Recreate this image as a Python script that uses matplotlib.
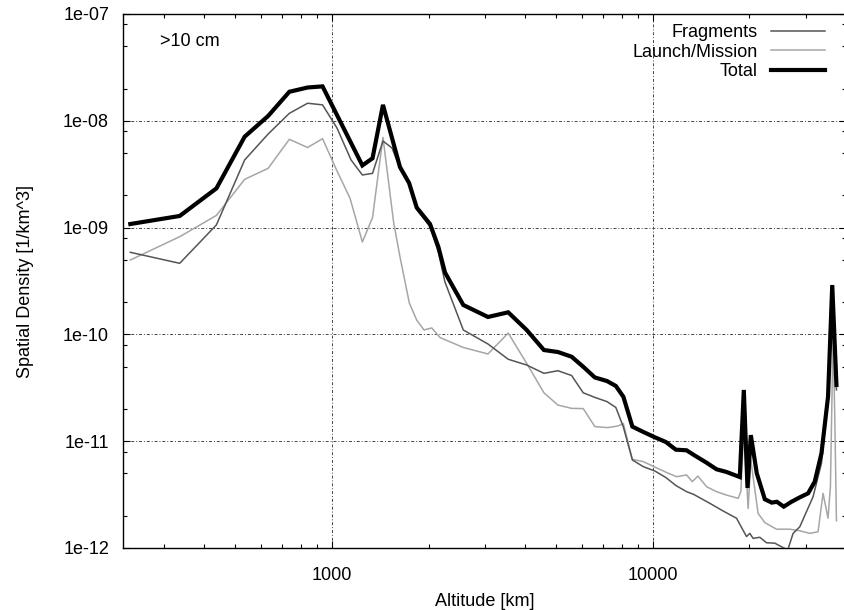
import matplotlib
matplotlib.use("Agg")
import matplotlib.pyplot as plt
from matplotlib.ticker import LogLocator, FixedLocator, NullFormatter, FixedFormatter

plt.rcParams['font.family'] = ['Liberation Sans', 'DejaVu Sans']

# ---- data (altitude in km, spatial density in 1/km^3) ----
total_alt = [235, 335, 436, 534, 632, 736, 839, 934, 1243, 1337, 1441, 1628, 1738, 1836,
             2020, 2144, 2249, 2565, 3062, 3541, 4042, 4575, 5058, 5581, 6066, 6596, 7191,
             7666, 8091, 8632, 9341, 10144, 10977, 11793, 12735, 13420, 14702, 15788, 16966,
             18664, 19210, 19724, 20200, 21086, 22336, 23480, 24340, 25590, 27050, 28710,
             30470, 31960, 33540, 35160, 36240, 37350]
total_dens = [1.08e-9, 1.285e-9, 2.33e-9, 7.1e-9, 1.11e-8, 1.87e-8, 2.05e-8, 2.10e-8, 3.82e-9,
              4.46e-9, 1.41e-8, 3.69e-9, 2.62e-9, 1.54e-9, 1.08e-9, 6.62e-10, 3.80e-10,
              1.885e-10, 1.456e-10, 1.61e-10, 1.10e-10, 7.14e-11, 6.84e-11, 6.18e-11, 4.98e-11,
              3.95e-11, 3.66e-11, 3.29e-11, 2.61e-11, 1.37e-11, 1.22e-11, 1.088e-11, 9.83e-12,
              8.33e-12, 8.22e-12, 7.43e-12, 6.29e-12, 5.46e-12, 5.15e-12, 4.62e-12, 3.02e-11,
              3.65e-12, 1.14e-11, 5.00e-12, 2.86e-12, 2.66e-12, 2.71e-12, 2.44e-12, 2.71e-12,
              2.98e-12, 3.25e-12, 4.18e-12, 7.70e-12, 2.61e-11, 2.90e-10, 3.36e-11]

frag_alt = [235, 335, 436, 534, 632, 736, 839, 934, 1036, 1146, 1243, 1337, 1441, 1538, 1628,
            1738, 1836, 2020, 2144, 2249, 2565, 3062, 3541, 4042, 4575, 5058, 5581, 6066, 6596,
            7191, 7666, 8091, 8632, 9341, 10144, 10977, 11793, 12735, 13420, 15054, 16558,
            18232, 19583, 20057, 20539, 21544, 22605, 23988, 25460, 26340, 27360, 28710, 31580,
            33540, 35160, 36240, 37350]
frag_dens = [5.87e-10, 4.63e-10, 1.06e-9, 4.30e-9, 7.52e-9, 1.175e-8, 1.46e-8, 1.41e-8, 8.56e-9,
             4.30e-9, 3.11e-9, 3.22e-9, 6.47e-9, 5.56e-9, 3.59e-9, 2.53e-9, 1.48e-9, 1.02e-9,
             5.91e-10, 3.09e-10, 1.10e-10, 8.13e-11, 5.85e-11, 5.17e-11, 4.32e-11, 4.57e-11,
             4.12e-11, 2.84e-11, 2.57e-11, 2.35e-11, 2.07e-11, 1.36e-11, 6.67e-12, 5.77e-12,
             5.26e-12, 4.57e-12, 3.85e-12, 3.37e-12, 3.17e-12, 2.62e-12, 2.22e-12, 1.90e-12,
             1.28e-12, 1.37e-12, 1.23e-12, 1.26e-12, 1.12e-12, 1.11e-12, 1.01e-12, 0.96e-12,
             1.37e-12, 1.58e-12, 3.02e-12, 6.21e-12, 2.43e-11, 1.69e-10, 3.02e-11]

lm_alt = [235, 335, 436, 534, 632, 736, 839, 934, 1036, 1138, 1243, 1337, 1441, 1555, 1628,
          1741, 1836, 1935, 2045, 2170, 2565, 3062, 3541, 4042, 4575, 5058, 5581, 6066, 6596,
          7242, 7795, 8091, 8632, 9341, 10144, 10977, 11852, 12735, 13278, 13810, 14702, 15788,
          16966, 18443, 18803, 19210, 19813, 20200, 21281, 22336, 24290, 26715, 28710, 30840,
          32730, 33930, 35160, 35770, 36450, 36900, 37350]
lm_dens = [4.97e-10, 8.22e-10, 1.30e-9, 2.83e-9, 3.59e-9, 6.71e-9, 5.62e-9, 6.80e-9, 3.39e-9,
           1.88e-9, 7.33e-10, 1.24e-9, 7.0e-9, 1.13e-9, 5.34e-10, 1.97e-10, 1.36e-10, 1.10e-10,
           1.15e-10, 9.35e-11, 7.54e-11, 6.56e-11, 1.03e-10, 5.36e-11, 2.84e-11, 2.18e-11,
           2.03e-11, 2.02e-11, 1.37e-11, 1.34e-11, 1.39e-11, 1.46e-11, 6.77e-12, 6.43e-12,
           5.73e-12, 5.13e-12, 4.65e-12, 4.83e-12, 4.18e-12, 4.72e-12, 3.75e-12, 3.37e-12,
           3.13e-12, 2.92e-12, 3.37e-12, 1.37e-11, 2.35e-12, 6.67e-12, 2.11e-12, 1.73e-12,
           1.50e-12, 1.50e-12, 1.45e-12, 1.37e-12, 1.42e-12, 3.25e-12, 1.90e-12, 3.75e-12,
           1.02e-10, 1.70e-11, 1.80e-12]

x_major = [1000, 10000]
x_major_labels = ["1000", "10000"]
y_major = [1e-12, 1e-11, 1e-10, 1e-9, 1e-8, 1e-7]
y_major_labels = ["1e-12", "1e-11", "1e-10", "1e-09", "1e-08", "1e-07"]

series_labels = ["Fragments", "Launch/Mission", "Total"]

# ---- figure ----
W, H = 844, 610
fig = plt.figure(figsize=(W / 100, H / 100), dpi=100)
ax = fig.add_axes([123 / W, 62 / H, (846 - 123) / W, (548 - 14) / H])

ax.set_xscale('log')
ax.set_yscale('log')

l1, = ax.plot(frag_alt, frag_dens, color='#555555', lw=1.1, label=series_labels[0], zorder=3)
l2, = ax.plot(lm_alt, lm_dens, color='#a6a6a6', lw=1.1, label=series_labels[1], zorder=2)
l3, = ax.plot(total_alt, total_dens, color='black', lw=3.0, label=series_labels[2], zorder=4,
              solid_joinstyle='miter')

ax.set_xlim(223, 40000)
ax.set_ylim(1e-12, 1e-7)

ax.xaxis.set_major_locator(FixedLocator(x_major))
ax.xaxis.set_major_formatter(FixedFormatter(x_major_labels))
ax.xaxis.set_minor_locator(LogLocator(base=10, subs=[2, 3, 4, 5, 6, 7, 8, 9]))
ax.xaxis.set_minor_formatter(NullFormatter())
ax.yaxis.set_major_locator(FixedLocator(y_major))
ax.yaxis.set_major_formatter(FixedFormatter(y_major_labels))
ax.yaxis.set_minor_locator(LogLocator(base=10, subs=[2, 5, 8]))
ax.yaxis.set_minor_formatter(NullFormatter())

ax.tick_params(which='both', direction='in', top=True, right=True, width=0.8, color='black')
ax.tick_params(which='major', length=5)
ax.tick_params(which='minor', length=3)
ax.tick_params(axis='x', which='major', pad=14, labelsize=13)
ax.tick_params(axis='y', which='major', pad=10, labelsize=13)

for s in ax.spines.values():
    s.set_linewidth(1.0)

ax.grid(True, which='major', color='#444444', linestyle=(0, (3, 2, 1, 2)), linewidth=0.7)

ax.set_xlabel("Altitude [km]", fontsize=13)
ax.set_ylabel("Spatial Density [1/km^3]", fontsize=13)
ax.xaxis.set_label_coords(0.5, -(593 - 548) / 534)
ax.yaxis.set_label_coords((34 - 123) / 723, 0.5)

ax.text((160 - 123) / 723, 1 - (42 - 14) / 534, ">10 cm", transform=ax.transAxes,
        ha='left', va='center', fontsize=13)

leg = ax.legend(handles=[l1, l2, l3], loc='upper right',
                bbox_to_anchor=((825 - 123) / 723, 1 - (24 - 14) / 534),
                frameon=False, markerfirst=False, borderpad=0, borderaxespad=0,
                handlelength=3.0, handletextpad=0.72, labelspacing=0.15, fontsize=13)

fig.savefig("out.png", dpi=100)
